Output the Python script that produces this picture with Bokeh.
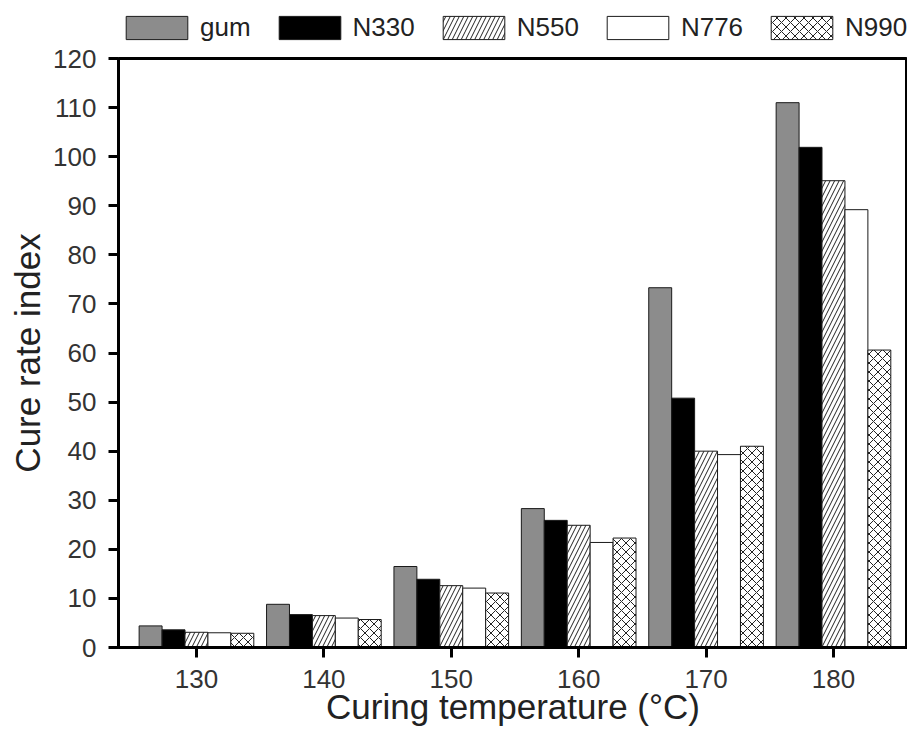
from bokeh.plotting import figure
from bokeh.models import (Legend, LegendItem, FixedTicker, ColumnDataSource, Range1d)
from bokeh.layouts import column
from bokeh.transform import dodge
from bokeh.embed import file_html
from bokeh.resources import INLINE

# ---- data ----
temps = [130, 140, 150, 160, 170, 180]
gum = [4.4, 8.8, 16.5, 28.3, 73.3, 111.0]
n330 = [3.6, 6.7, 13.9, 25.9, 50.8, 101.9]
n550 = [3.1, 6.5, 12.6, 24.9, 40.0, 95.1]
n776 = [3.0, 6.0, 12.1, 21.4, 39.3, 89.2]
n990 = [2.9, 5.7, 11.1, 22.3, 41.0, 60.6]
series_names = ["gum", "N330", "N550", "N776", "N990"]
y_ticks = [0, 10, 20, 30, 40, 50, 60, 70, 80, 90, 100, 110, 120]
x_title = "Curing temperature (°C)"
y_title = "Cure rate index"

src = ColumnDataSource(dict(t=temps, gum=gum, n330=n330, n550=n550, n776=n776, n990=n990))

FONT = "Liberation Sans"

styles = [
    dict(col="gum", fill_color="#8c8c8c", hatch_pattern=None),
    dict(col="n330", fill_color="#000000", hatch_pattern=None),
    dict(col="n550", fill_color="#ffffff", hatch_pattern="right_diagonal_line"),
    dict(col="n776", fill_color="#ffffff", hatch_pattern=None),
    dict(col="n990", fill_color="#ffffff", hatch_pattern="diagonal_cross"),
]


def style_kw(st):
    kw = dict(fill_color=st["fill_color"], line_color="#1a1a1a", line_width=1)
    if st["hatch_pattern"]:
        kw.update(hatch_pattern=st["hatch_pattern"], hatch_color="#222222",
                  hatch_scale=9, hatch_weight=1)
    return kw


# ---- main chart ----
p = figure(width=907, height=697, output_backend="svg", toolbar_location=None, title=None,
           x_range=Range1d(123.88, 185.81), y_range=Range1d(0, 120),
           min_border_left=118, min_border_right=0, min_border_top=15, min_border_bottom=93)
p.grid.visible = False
p.background_fill_color = "white"
p.border_fill_color = "white"
p.outline_line_color = "black"
p.outline_line_width = 3

bw = 1.8
for i, st in enumerate(styles):
    p.vbar(x=dodge("t", (i - 2) * bw, range=p.x_range), top=st["col"], width=bw,
           source=src, **style_kw(st))

for ax in (p.xaxis[0], p.yaxis[0]):
    ax.axis_line_width = 3
    ax.axis_line_color = "black"
    ax.major_tick_line_width = 3
    ax.major_tick_line_color = "black"
    ax.major_tick_out = 10
    ax.major_tick_in = 0
    ax.minor_tick_line_color = None
    ax.major_label_text_font = FONT
    ax.major_label_text_font_size = "26px"
    ax.major_label_text_color = "#333333"
    ax.axis_label_text_font = FONT
    ax.axis_label_text_font_size = "35px"
    ax.axis_label_text_font_style = "normal"
    ax.axis_label_text_color = "#222222"

p.xaxis.ticker = FixedTicker(ticks=temps)
p.yaxis.ticker = FixedTicker(ticks=y_ticks)
p.xaxis.axis_label = x_title
p.yaxis.axis_label = y_title
p.xaxis.major_label_standoff = 12
p.yaxis.major_label_standoff = 12
p.xaxis.axis_label_standoff = -4
p.yaxis.axis_label_standoff = 3

# ---- legend strip above the chart ----
# the legend's renderers reuse the data, but sit outside this strip's (0..1) ranges
lf = figure(width=907, height=43, output_backend="svg", toolbar_location=None, title=None,
            x_range=Range1d(0, 1), y_range=Range1d(0, 1), min_border=0,
            x_axis_location=None, y_axis_location=None)
lf.outline_line_color = None
lf.grid.visible = False
lf.background_fill_color = "white"
lf.border_fill_color = "white"
leg_renderers = [lf.vbar(x="t", top=st["col"], width=bw, source=src, **style_kw(st))
                 for st in styles]
legend = Legend(items=[LegendItem(label=n, renderers=[r]) for n, r in zip(series_names, leg_renderers)],
                orientation="horizontal", location=(0, 0),
                glyph_width=77, glyph_height=29, label_standoff=5, spacing=20,
                padding=0, margin=0, border_line_alpha=0, background_fill_alpha=0,
                label_text_font=FONT, label_text_font_size="26px", label_text_color="#222222")
lf.add_layout(legend, "center")

layout = column(lf, p, spacing=0)
open("out.html", "w").write(file_html(layout, INLINE))
